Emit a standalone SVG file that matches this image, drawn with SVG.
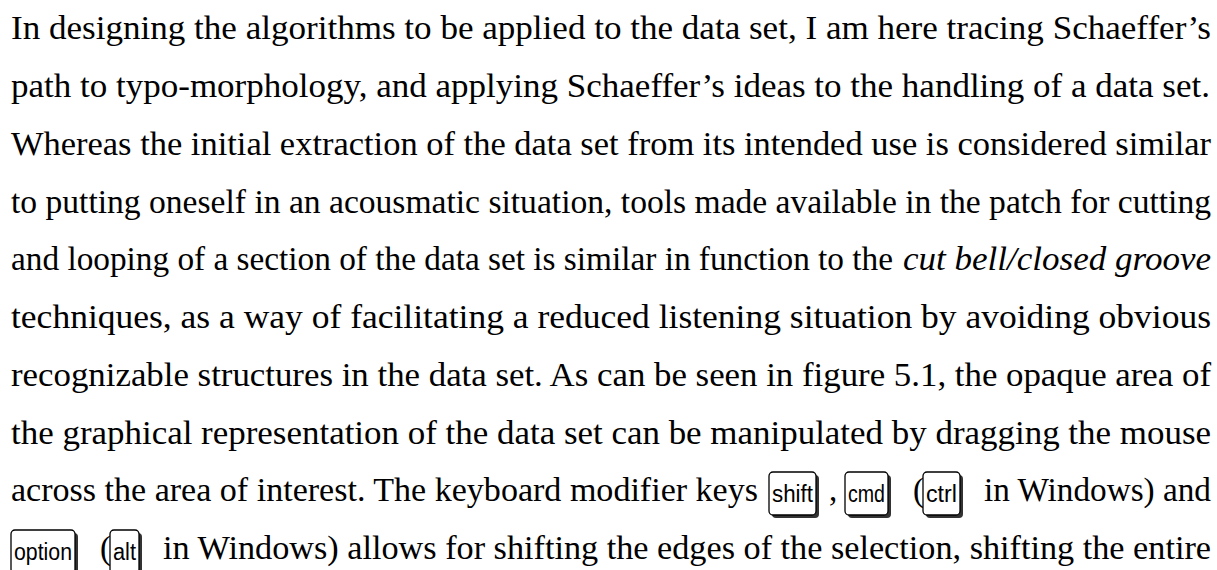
<svg xmlns="http://www.w3.org/2000/svg" width="1217" height="570" viewBox="0 0 1217 570">
<style>
.t{font-family:"Liberation Serif","Times New Roman",serif;font-size:33px;fill:#000}
.it{font-style:italic}
.kbg{fill:#ffffff;stroke:#000;stroke-width:1.3}
.ksh{fill:#333333}
.kt{font-family:"Liberation Sans",Arial,sans-serif;font-size:23px;fill:#000}
</style>
<rect width="1217" height="570" fill="#ffffff"/>
<g id="paragraph">
<text class="t" x="11" y="39" textLength="1200" lengthAdjust="spacingAndGlyphs">In designing the algorithms to be applied to the data set, I am here tracing Schaeffer’s</text>
<text class="t" x="11" y="97" textLength="1199" lengthAdjust="spacingAndGlyphs">path to typo-morphology, and applying Schaeffer’s ideas to the handling of a data set.</text>
<text class="t" x="11" y="155" textLength="1200" lengthAdjust="spacingAndGlyphs">Whereas the initial extraction of the data set from its intended use is considered similar</text>
<text class="t" x="11" y="213" textLength="1200" lengthAdjust="spacingAndGlyphs">to putting oneself in an acousmatic situation, tools made available in the patch for cutting</text>
<text class="t" x="11" y="270" textLength="882" lengthAdjust="spacingAndGlyphs">and looping of a section of the data set is similar in function to the</text>
<text class="t it" x="903" y="270" textLength="308" lengthAdjust="spacingAndGlyphs">cut bell/closed groove</text>
<text class="t" x="11" y="328" textLength="1200" lengthAdjust="spacingAndGlyphs">techniques, as a way of facilitating a reduced listening situation by avoiding obvious</text>
<text class="t" x="11" y="386" textLength="1200" lengthAdjust="spacingAndGlyphs">recognizable structures in the data set. As can be seen in figure 5.1, the opaque area of</text>
<text class="t" x="11" y="444" textLength="1200" lengthAdjust="spacingAndGlyphs">the graphical representation of the data set can be manipulated by dragging the mouse</text>
<text class="t" x="11" y="501" textLength="747" lengthAdjust="spacingAndGlyphs">across the area of interest. The keyboard modifier keys</text>
<text class="t" x="829" y="501">,</text>
<text class="t" x="913" y="501">(</text>
<text class="t" x="984" y="501" textLength="227" lengthAdjust="spacingAndGlyphs">in Windows) and</text>
<text class="t" x="100" y="559">(</text>
<text class="t" x="163" y="559" textLength="1048" lengthAdjust="spacingAndGlyphs">in Windows) allows for shifting the edges of the selection, shifting the entire</text>
</g>
<g id="key-shift">
<rect class="ksh" x="772" y="475" width="47" height="43" rx="4"/>
<rect class="kbg" x="769" y="472" width="47" height="43" rx="4"/>
<text class="kt" x="772" y="502" textLength="41" lengthAdjust="spacingAndGlyphs">shift</text>
</g>
<g id="key-cmd">
<rect class="ksh" x="848" y="475" width="43" height="43" rx="4"/>
<rect class="kbg" x="845" y="472" width="43" height="43" rx="4"/>
<text class="kt" x="848" y="502" textLength="37" lengthAdjust="spacingAndGlyphs">cmd</text>
</g>
<g id="key-ctrl">
<rect class="ksh" x="926" y="475" width="37" height="43" rx="4"/>
<rect class="kbg" x="923" y="472" width="37" height="43" rx="4"/>
<text class="kt" x="926" y="502" textLength="31" lengthAdjust="spacingAndGlyphs">ctrl</text>
</g>
<g id="key-option">
<rect class="ksh" x="14" y="533" width="64" height="43" rx="4"/>
<rect class="kbg" x="11" y="530" width="64" height="43" rx="4"/>
<text class="kt" x="14" y="560" textLength="58" lengthAdjust="spacingAndGlyphs">option</text>
</g>
<g id="key-alt">
<rect class="ksh" x="113" y="533" width="29" height="43" rx="4"/>
<rect class="kbg" x="110" y="530" width="29" height="43" rx="4"/>
<text class="kt" x="113" y="560" textLength="23" lengthAdjust="spacingAndGlyphs">alt</text>
</g>
</svg>
